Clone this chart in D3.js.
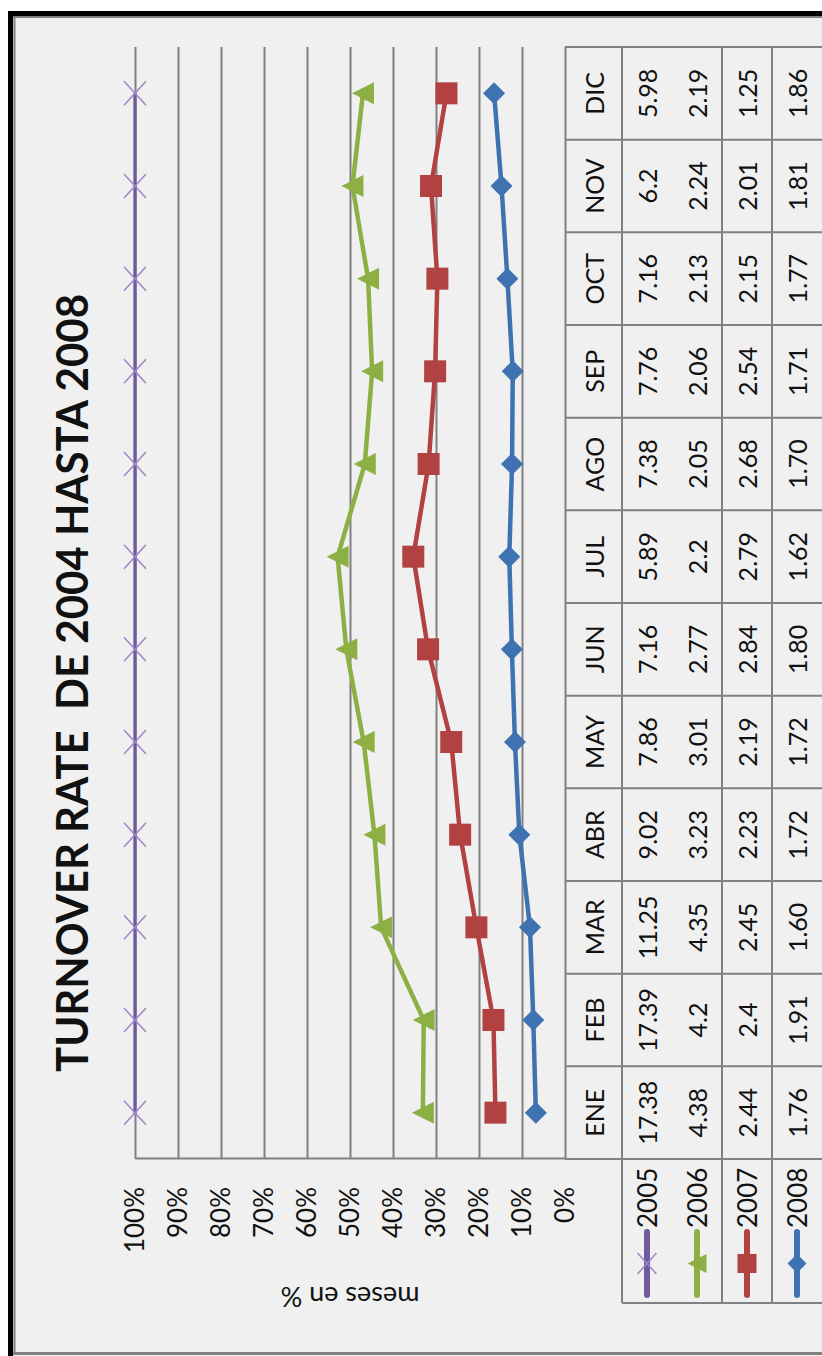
<!DOCTYPE html>
<html>
<head>
<meta charset="utf-8">
<script src="https://cdn.jsdelivr.net/npm/d3@7"></script>
<style>
  html, body { margin: 0; padding: 0; background: #ffffff; }
  svg { display: block; }
  text { font-family: Lato, "Liberation Sans", sans-serif; fill: #111; }
</style>
</head>
<body>
<svg id="chart" width="822" height="1356"></svg>
<script>
// ---- data ----
const months = ["ENE", "FEB", "MAR", "ABR", "MAY", "JUN", "JUL", "AGO", "SEP", "OCT", "NOV", "DIC"];
const years = ["2005", "2006", "2007", "2008"];
const rate2005 = ["17.38", "17.39", "11.25", "9.02", "7.86", "7.16", "5.89", "7.38", "7.76", "7.16", "6.2", "5.98"];
const rate2006 = ["4.38", "4.2", "4.35", "3.23", "3.01", "2.77", "2.2", "2.05", "2.06", "2.13", "2.24", "2.19"];
const rate2007 = ["2.44", "2.4", "2.45", "2.23", "2.19", "2.84", "2.79", "2.68", "2.54", "2.15", "2.01", "1.25"];
const rate2008 = ["1.76", "1.91", "1.60", "1.72", "1.72", "1.80", "1.62", "1.70", "1.71", "1.77", "1.81", "1.86"];
const percentTicks = [0, 0.1, 0.2, 0.3, 0.4, 0.5, 0.6, 0.7, 0.8, 0.9, 1];
const chartTitle = "TURNOVER RATE  DE 2004 HASTA 2008";
const valueAxisTitle = "meses en %";

const rateByYear = { "2005": rate2005, "2006": rate2006, "2007": rate2007, "2008": rate2008 };
const colors = { "2005": "#6f5a9f", "2006": "#8cb043", "2007": "#b24141", "2008": "#3e72b1" };
const xMarkColor = "#9c86c6";
const gridColor = "#808080";

const svg = d3.select("#chart");

// ---- outer frame (page coordinates) ----
svg.append("rect").attr("x", 9).attr("y", 11).attr("width", 830).attr("height", 1360).attr("fill", "#f0f0f0");
svg.append("line").attr("x1", 10.5).attr("x2", 10.5).attr("y1", 11).attr("y2", 1356)
  .attr("stroke", "#000").attr("stroke-width", 5);
svg.append("line").attr("x1", 8).attr("x2", 822).attr("y1", 13.5).attr("y2", 13.5)
  .attr("stroke", "#000").attr("stroke-width", 5);
svg.append("line").attr("x1", 14.5).attr("x2", 14.5).attr("y1", 16).attr("y2", 1354)
  .attr("stroke", "#808080").attr("stroke-width", 2);
svg.append("line").attr("x1", 13).attr("x2", 822).attr("y1", 17).attr("y2", 17)
  .attr("stroke", "#808080").attr("stroke-width", 2);
svg.append("line").attr("x1", 13).attr("x2", 822).attr("y1", 1353.5).attr("y2", 1353.5)
  .attr("stroke", "#808080").attr("stroke-width", 3);

// ---- the chart itself is laid out sideways: build it flat, then turn it ----
const g = svg.append("g").attr("transform", "translate(0,1356) rotate(-90)");

const plotLeft = 197, plotRight = 1309, plotTop = 135, plotBottom = 565;
const x = d3.scaleBand().domain(months).range([plotLeft, plotRight]);
const y = d3.scaleLinear().domain([0, 1]).range([plotBottom, plotTop]);
const cx = m => x(m) + x.bandwidth() / 2;

// rows of the data table (header, then one row per year)
const tableTop = plotBottom, headerBottom = 622;
const rowCenter = { header: 593.5, "2005": 647, "2006": 697, "2007": 747, "2008": 797 };
const tableLines = [622, 722, 772];

// title
g.append("text")
  .attr("x", 673).attr("y", 88)
  .attr("text-anchor", "middle")
  .attr("font-size", 43).attr("font-weight", "bold")
  .attr("textLength", 778).attr("lengthAdjust", "spacingAndGlyphs")
  .style("white-space", "pre")
  .text(chartTitle);

// value axis with gridlines
const yAxis = d3.axisLeft(y)
  .tickValues(percentTicks)
  .tickFormat(d3.format(".0%"))
  .tickSizeInner(-(plotRight - plotLeft))
  .tickSizeOuter(0)
  .tickPadding(28);
const ax = g.append("g").attr("transform", `translate(${plotLeft},0)`).call(yAxis);
ax.select(".domain").attr("stroke", gridColor).attr("stroke-width", 2);
ax.selectAll(".tick line").attr("stroke", gridColor).attr("stroke-width", 2);
ax.selectAll(".tick text")
  .attr("font-size", 26).attr("font-family", "Lato, 'Liberation Sans', sans-serif")
  .attr("fill", "#111");

g.append("text")
  .attr("transform", "translate(59,350) rotate(-90)")
  .attr("text-anchor", "middle").attr("dominant-baseline", "central")
  .attr("font-size", 27)
  .text(valueAxisTitle);

// ---- 100% stacked series ----
const rows = months.map((m, i) => {
  const r = { month: m };
  years.forEach(yr => { r[yr] = +rateByYear[yr][i]; });
  return r;
});
const stacked = d3.stack()
  .keys(["2008", "2007", "2006", "2005"])
  .offset(d3.stackOffsetExpand)(rows);
const seriesByYear = {};
stacked.forEach(s => { seriesByYear[s.key] = s; });

const line = d3.line().x(d => cx(d.data.month)).y(d => y(d[1]));

// marker shapes, drawn around the origin
function markerPath(yr, s) {
  const h = s / 2;
  if (yr === "2006") return `M0,${-h}L${h},${h}L${-h},${h}Z`;
  if (yr === "2007") return `M${-h},${-h}H${h}V${h}H${-h}Z`;
  if (yr === "2008") return `M0,${-h}L${h},0L0,${h}L${-h},0Z`;
  return `M${-h - 1},${-h}L${h + 1},${h}M${h + 1},${-h}L${-h - 1},${h}`;
}
function drawMarker(sel, yr, s) {
  const p = sel.append("path").attr("d", markerPath(yr, s));
  if (yr === "2005") p.attr("fill", "none").attr("stroke", xMarkColor).attr("stroke-width", 1.5);
  else p.attr("fill", colors[yr]);
}

years.forEach(yr => {
  const s = seriesByYear[yr];
  g.append("path")
    .datum(s)
    .attr("d", line)
    .attr("fill", "none")
    .attr("stroke", colors[yr])
    .attr("stroke-width", yr === "2005" ? 3.3 : 4.5)
    .attr("stroke-linejoin", "round");
  s.forEach(d => {
    const mg = g.append("g").attr("transform", `translate(${cx(d.data.month)},${y(d[1])})`);
    drawMarker(mg, yr, 22);
  });
});

// ---- data table below the plot ----
const tl = g.append("g").attr("stroke", gridColor).attr("stroke-width", 2);
const edges = months.map(m => x(m)).concat([plotRight]);
edges.forEach(u => {
  tl.append("line").attr("x1", u).attr("x2", u).attr("y1", tableTop).attr("y2", 830);
});
tl.append("line").attr("x1", plotLeft).attr("x2", plotLeft).attr("y1", plotBottom).attr("y2", 830);
tableLines.forEach(v => {
  tl.append("line").attr("x1", 53).attr("x2", plotRight).attr("y1", v).attr("y2", v);
});
tl.append("line").attr("x1", 53).attr("x2", 53).attr("y1", headerBottom).attr("y2", 830);

// month headers
g.selectAll(".month").data(months).join("text")
  .attr("class", "month")
  .attr("x", d => cx(d)).attr("y", rowCenter.header)
  .attr("text-anchor", "middle").attr("dominant-baseline", "central")
  .attr("font-size", 25)
  .text(d => d);

// values
years.forEach(yr => {
  g.selectAll(`.val${yr}`).data(rateByYear[yr]).join("text")
    .attr("class", `val${yr}`)
    .attr("x", (d, i) => cx(months[i])).attr("y", rowCenter[yr])
    .attr("text-anchor", "middle").attr("dominant-baseline", "central")
    .attr("font-size", 25)
    .text(d => d);
});

// legend keys in the row headers
years.forEach(yr => {
  const v = rowCenter[yr];
  g.append("line").attr("x1", 61).attr("x2", 124).attr("y1", v).attr("y2", v)
    .attr("stroke", colors[yr]).attr("stroke-width", 6).attr("stroke-linecap", "round");
  const mg = g.append("g").attr("transform", `translate(92.5,${v})`);
  drawMarker(mg, yr, 19);
  g.append("text")
    .attr("x", 128).attr("y", v)
    .attr("dominant-baseline", "central")
    .attr("font-size", 26)
    .text(yr);
});
</script>
</body>
</html>
